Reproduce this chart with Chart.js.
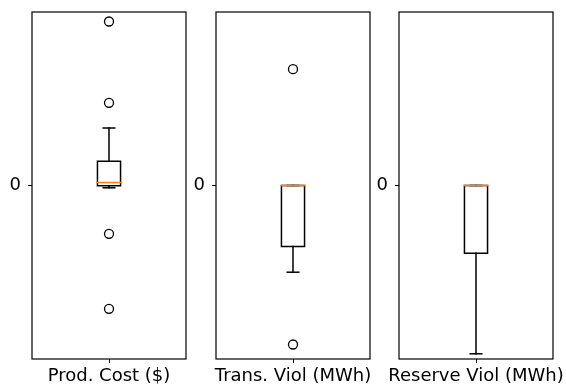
<!DOCTYPE html>
<html>
<head>
<meta charset="utf-8">
<script src="https://cdn.jsdelivr.net/npm/chart.js@4/dist/chart.umd.min.js"></script>
<style>
    html, body { margin: 0; padding: 0; background: #fff; }
    #wrap { position: relative; width: 566px; height: 386px; overflow: hidden; }
    .panel { position: absolute; top: 0; width: 199px; height: 386px; }
</style>
</head>
<body>
<div id="wrap">
    <div class="panel" style="left:0px"><canvas id="c0"></canvas></div>
    <div class="panel" style="left:184px"><canvas id="c1"></canvas></div>
    <div class="panel" style="left:367px"><canvas id="c2"></canvas></div>
</div>
<script>
// Box plot summary values for each panel (relative units, 0 is the only tick)
const labels = ['Prod. Cost ($)', 'Trans. Viol (MWh)', 'Reserve Viol (MWh)'];
const whiskerLow = [-2.3, -86.7, -168.3];
const q1 = [-0.3, -61, -67.7];
const median = [3, 0, 0];
const q3 = [24.3, 0, 0];
const whiskerHigh = [57.5, 0, 0];
const outliers = [
    [164, 82.7, -48.3, -123.3],
    [116.3, -159],
    []
];
const yLimit = 173.5;
const yTicks = [0];

const BOX_W = 0.15;
const CAP_W = 0.075;
const FONT = { family: 'DejaVu Sans', size: 18 };

Chart.defaults.font.family = 'DejaVu Sans';
Chart.defaults.color = '#000';

// draws all four spines like matplotlib
const spines = {
    id: 'spines',
    afterDraw(chart) {
        const a = chart.chartArea;
        const ctx = chart.ctx;
        ctx.save();
        ctx.strokeStyle = '#000';
        ctx.lineWidth = 1.2;
        ctx.strokeRect(a.left, a.top, a.right - a.left, a.bottom - a.top);
        ctx.restore();
    }
};

function noPad(axis) {
    axis.paddingLeft = 0;
    axis.paddingRight = 0;
    axis.paddingTop = 0;
    axis.paddingBottom = 0;
}

function seg(points, color) {
    return {
        type: 'line',
        data: points.map(p => ({ x: p[0], y: p[1] })),
        borderColor: color || '#000',
        borderWidth: 1.5,
        borderCapStyle: 'square',
        pointRadius: 0,
        fill: false,
        tension: 0
    };
}

function makePanel(i) {
    const l = 1 - BOX_W / 2, r = 1 + BOX_W / 2;
    const cl = 1 - CAP_W / 2, cr = 1 + CAP_W / 2;

    const datasets = [
        seg([[l, median[i]], [r, median[i]]], '#ff7f0e'),
        seg([[l, q1[i]], [r, q1[i]], [r, q3[i]], [l, q3[i]], [l, q1[i]]]),
        seg([[1, q1[i]], [1, whiskerLow[i]]]),
        seg([[cl, whiskerLow[i]], [cr, whiskerLow[i]]]),
        seg([[1, q3[i]], [1, whiskerHigh[i]]]),
        seg([[cl, whiskerHigh[i]], [cr, whiskerHigh[i]]]),
        {
            type: 'scatter',
            data: outliers[i].map(v => ({ x: 1, y: v })),
            pointStyle: 'circle',
            pointRadius: 4.5,
            pointBorderWidth: 1.3,
            pointBorderColor: '#000',
            pointBackgroundColor: 'rgba(0,0,0,0)',
            showLine: false
        }
    ];

    new Chart(document.getElementById('c' + i), {
        type: 'line',
        data: { datasets: datasets },
        options: {
            responsive: true,
            maintainAspectRatio: false,
            animation: false,
            devicePixelRatio: 1,
            layout: { padding: { top: 12, right: 13, left: 0, bottom: 0 } },
            plugins: { legend: { display: false }, tooltip: { enabled: false } },
            scales: {
                x: {
                    type: 'linear',
                    min: 0.5,
                    max: 1.5,
                    afterBuildTicks: axis => { axis.ticks = [{ value: 1 }]; },
                    afterFit: axis => { axis.height = 27; noPad(axis); },
                    ticks: {
                        callback: () => labels[i],
                        font: FONT,
                        color: '#000',
                        padding: 3,
                        maxRotation: 0,
                        autoSkip: false
                    },
                    grid: {
                        drawOnChartArea: false,
                        drawTicks: true,
                        tickLength: 4,
                        tickColor: '#000',
                        tickWidth: 1
                    },
                    border: { display: false }
                },
                y: {
                    type: 'linear',
                    min: -yLimit,
                    max: yLimit,
                    afterBuildTicks: axis => { axis.ticks = yTicks.map(v => ({ value: v })); },
                    afterFit: axis => { axis.width = 32; noPad(axis); },
                    ticks: {
                        font: FONT,
                        color: '#000',
                        padding: 7
                    },
                    grid: {
                        drawOnChartArea: false,
                        drawTicks: true,
                        tickLength: 4,
                        tickColor: '#000',
                        tickWidth: 1
                    },
                    border: { display: false }
                }
            }
        },
        plugins: [spines]
    });
}

document.addEventListener('DOMContentLoaded', function() {
    for (let i = 0; i < labels.length; i++) {
        makePanel(i);
    }
});
</script>
</body>
</html>
